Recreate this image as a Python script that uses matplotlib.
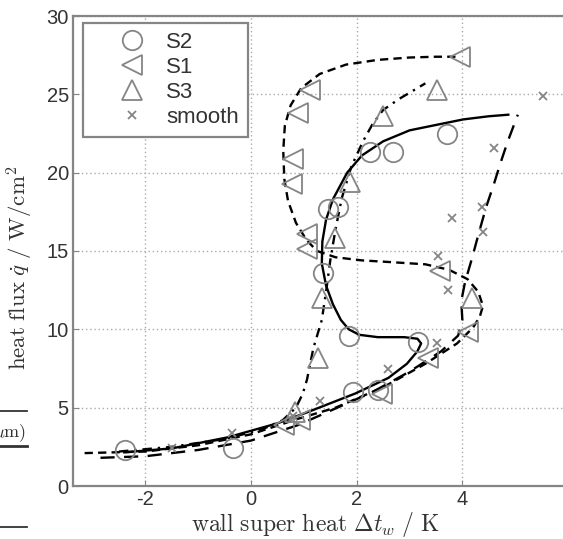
import matplotlib
matplotlib.use("Agg")
import matplotlib.pyplot as plt
from matplotlib.lines import Line2D

plt.rcParams['font.family'] = ['Liberation Sans', 'DejaVu Sans']
plt.rcParams['mathtext.fontset'] = 'cm'

# measured points per surface
s2_x = [-2.39, -0.34, 1.93, 2.41, 1.86, 3.16, 1.36, 1.45, 1.65, 2.25, 2.69, 3.71]
s2_y = [2.3, 2.4, 6.0, 6.1, 9.6, 9.2, 13.6, 17.7, 17.8, 21.3, 21.3, 22.5]

s1_x = [3.96, 1.12, 0.89, 0.80, 0.78, 1.06, 1.06, 3.58, 4.11, 3.35, 2.48, 0.93, 0.62]
s1_y = [27.4, 25.3, 23.8, 20.9, 19.3, 16.1, 15.1, 13.7, 9.8, 8.2, 5.9, 4.2, 3.9]

s3_x = [3.52, 2.50, 1.88, 1.59, 1.34, 1.27, 4.19, 0.83]
s3_y = [25.3, 23.6, 19.4, 15.8, 12.0, 8.2, 12.0, 4.7]

sm_x = [5.53, 4.60, 4.38, 3.81, 4.40, 3.54, 3.73, 3.52, 2.60, 1.31, 0.80, -0.36, -1.50]
sm_y = [24.9, 21.6, 17.8, 17.1, 16.2, 14.7, 12.5, 9.1, 7.5, 5.4, 4.5, 3.4, 2.4]

# fitted boiling curves
fit_s2_x = [-2.4, -1.5, -0.45, 0.5, 1.06, 1.97, 2.6, 2.95, 3.15, 3.22, 3.15, 2.9,
            2.4, 2.05, 1.85, 1.7, 1.55, 1.42, 1.34, 1.35, 1.42, 1.55, 1.82, 2.1,
            2.5, 3.0, 3.58, 4.02, 4.5, 4.87]
fit_s2_y = [2.15, 2.4, 3.1, 4.0, 4.7, 5.9, 6.9, 7.8, 8.6, 9.1, 9.4, 9.5,
            9.5, 9.65, 10.0, 10.6, 11.6, 12.8, 14.2, 15.6, 17.0, 18.3, 20.0, 21.1,
            22.0, 22.7, 23.1, 23.4, 23.6, 23.7]

fit_s1_x = [-3.15, -2.0, -1.0, 0.0, 0.9, 1.6, 2.5, 3.3, 3.9, 4.2, 4.33, 4.39,
            4.3, 4.1, 3.75, 3.3, 2.6, 2.1, 1.6, 1.25, 1.05, 0.85, 0.70, 0.63,
            0.61, 0.64, 0.75, 0.95, 1.3, 1.8, 2.4, 3.0, 3.5, 3.9]
fit_s1_y = [2.1, 2.2, 2.6, 3.3, 4.3, 5.0, 6.3, 7.8, 9.1, 10.1, 10.8, 11.5,
            12.4, 13.2, 13.8, 14.15, 14.3, 14.4, 14.6, 15.0, 15.7, 16.8, 18.2, 19.6,
            21.4, 23.0, 24.3, 25.4, 26.3, 26.9, 27.2, 27.35, 27.4, 27.4]

fit_s3_x = [-2.5, -1.5, -0.5, 0.2, 0.6, 0.85, 0.98, 1.06, 1.18, 1.34, 1.42, 1.5,
            1.6, 1.72, 1.9, 2.12, 2.3, 2.5, 2.8, 3.05, 3.3]
fit_s3_y = [2.2, 2.5, 3.0, 3.6, 4.2, 5.0, 5.9, 6.8, 8.8, 10.6, 12.4, 14.4,
            16.4, 18.4, 20.4, 22.0, 23.1, 24.0, 24.7, 25.2, 25.7]

fit_sm_x = [-2.85, -2.0, -1.0, 0.0, 0.9, 1.5, 2.3, 3.0, 3.6, 3.92, 4.0, 3.98,
            4.05, 4.18, 4.3, 4.45, 4.6, 4.72, 4.86, 5.05]
fit_sm_y = [1.8, 1.9, 2.3, 2.9, 3.9, 4.8, 6.0, 7.3, 8.6, 9.6, 10.6, 11.8,
            13.0, 14.5, 16.0, 17.8, 19.3, 20.6, 22.0, 23.7]

x_ticks = [-2, 0, 2, 4, 6]
y_ticks = [0, 5, 10, 15, 20, 25, 30]

W, H = 563, 539
fig = plt.figure(figsize=(W / 100, H / 100), dpi=100)
ax = fig.add_axes([73 / W, (H - 486) / H, 495 / W, 470 / H])

gray = '#858585'
ax.set_xlim(-3.37, 6)
ax.set_ylim(0, 30)
ax.set_xticks(x_ticks)
ax.set_yticks(y_ticks)
ax.set_xticklabels([str(v) for v in x_ticks])
ax.set_yticklabels([str(v) for v in y_ticks])
ax.grid(True, linestyle=(0, (1, 2)), color='#aaaaaa', linewidth=1.0)
ax.tick_params(direction='in', length=4, color=gray, labelsize=14.5,
               labelcolor='#333333', pad=3)
for sp in ax.spines.values():
    sp.set_color(gray)
    sp.set_linewidth(1.6)

lw = 1.7
ax.plot(fit_s2_x, fit_s2_y, '-', color='black', lw=lw)
ax.plot(fit_s1_x, fit_s1_y, color='black', lw=lw, dashes=(3.5, 2.2))
ax.plot(fit_s3_x, fit_s3_y, color='black', lw=lw, dashes=(4, 2.5, 1, 2.5))
ax.plot(fit_sm_x, fit_sm_y, color='black', lw=lw, dashes=(6, 4))

mk = dict(linestyle='none', markerfacecolor='none', markeredgecolor=gray,
          markeredgewidth=1.3)
ax.plot(s2_x, s2_y, marker='o', markersize=14, label='S2', **mk)
ax.plot(s1_x, s1_y, marker='<', markersize=14, label='S1', **mk)
ax.plot(s3_x, s3_y, marker='^', markersize=14, label='S3', **mk)
ax.plot(sm_x, sm_y, marker='x', markersize=6, label='smooth', **mk)

leg = ax.legend(loc='upper left', bbox_to_anchor=(0.02, 0.985), borderaxespad=0,
                fancybox=False, edgecolor=gray, fontsize=16, borderpad=0.4,
                handlelength=3.6, handletextpad=-0.25, labelspacing=0.18,
                framealpha=1)
leg.get_frame().set_linewidth(1.6)
for t in leg.get_texts():
    t.set_color('#333333')

ax.set_xlabel(r'$\mathrm{wall\ super\ heat}\ \Delta t_w\ /\ \mathrm{K}$',
              fontsize=17, color='#333333')
ax.set_ylabel(r'$\mathrm{heat\ flux}\ \dot{q}\ /\ \mathrm{W/cm^2}$',
              fontsize=16.5, color='#333333')
ax.xaxis.set_label_coords(0.49, -0.052)
ax.yaxis.set_label_coords(-0.077, 0.464)

# edge of the neighbouring table
for yy, w in [(411, 1.3), (446, 2.0), (527, 1.3)]:
    fig.add_artist(Line2D([0, 27 / W], [1 - yy / H, 1 - yy / H],
                          color='#333333', lw=w))
fig.text(-0.012, 1 - 433 / H, r'$\mathrm{\mu m)}$', fontsize=13,
         color='#333333', va='center', ha='left')

fig.savefig('out.png', dpi=100)
